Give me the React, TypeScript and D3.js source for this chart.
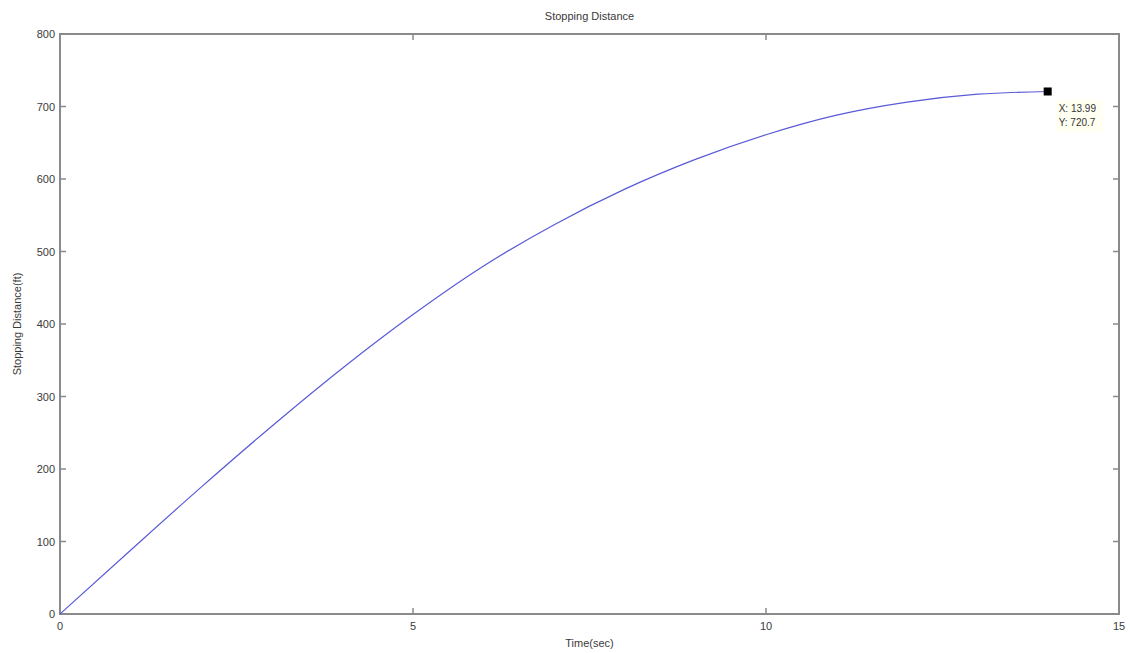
import React, { useRef, useEffect } from "react";
import * as d3 from "d3";

// values
const timeSec = [0, 1, 2, 3, 4, 5, 6, 7, 8, 9, 10, 11, 12, 13, 13.99];
const distanceFt = [0, 88, 175, 259, 339, 413, 480, 537, 586, 627, 661, 688, 706, 717, 720.7];
const xTicks = [0, 5, 10, 15];
const yTicks = [0, 100, 200, 300, 400, 500, 600, 700, 800];
const tipPoint = { x: 13.99, y: 720.7 };

const App = () => {
  const svgRef = useRef<SVGSVGElement>(null);

  useEffect(() => {
    const width = 1130;
    const height = 653;
    const margin = { top: 34, right: 11, bottom: 39, left: 60 };
    const font = "'Liberation Sans', Arial, sans-serif";
    const axisColor = "#8a8a8a";
    const textColor = "#3a3a3a";

    const svg = d3.select(svgRef.current);
    svg.selectAll("*").remove();
    svg.attr("width", width).attr("height", height);

    const xScale = d3
      .scaleLinear()
      .domain([0, 15])
      .range([margin.left, width - margin.right]);

    const yScale = d3
      .scaleLinear()
      .domain([0, 800])
      .range([height - margin.bottom, margin.top]);

    svg.append("rect").attr("width", width).attr("height", height).attr("fill", "#fff");

    // ticks point inwards on all four sides, like the original box
    const tickLen = 6;
    const x0 = xScale(0);
    const x1 = xScale(15);
    const y0 = yScale(0);
    const y1 = yScale(800);

    const ticks = svg.append("g").attr("stroke", axisColor).attr("stroke-width", 1.5);
    xTicks.forEach((t) => {
      ticks.append("line").attr("x1", xScale(t)).attr("x2", xScale(t)).attr("y1", y0).attr("y2", y0 - tickLen);
      ticks.append("line").attr("x1", xScale(t)).attr("x2", xScale(t)).attr("y1", y1).attr("y2", y1 + tickLen);
    });
    yTicks.forEach((t) => {
      ticks.append("line").attr("x1", x0).attr("x2", x0 + tickLen).attr("y1", yScale(t)).attr("y2", yScale(t));
      ticks.append("line").attr("x1", x1).attr("x2", x1 - tickLen).attr("y1", yScale(t)).attr("y2", yScale(t));
    });

    // box
    svg
      .append("rect")
      .attr("x", x0)
      .attr("y", y1)
      .attr("width", x1 - x0)
      .attr("height", y0 - y1)
      .attr("fill", "none")
      .attr("stroke", axisColor)
      .attr("stroke-width", 2);

    // tick labels
    svg
      .append("g")
      .selectAll("text")
      .data(xTicks)
      .enter()
      .append("text")
      .attr("x", (d) => xScale(d))
      .attr("y", y0 + 16)
      .attr("text-anchor", "middle")
      .attr("font-family", font)
      .attr("font-size", 11)
      .attr("fill", textColor)
      .text((d) => d);

    svg
      .append("g")
      .selectAll("text")
      .data(yTicks)
      .enter()
      .append("text")
      .attr("x", x0 - 5)
      .attr("y", (d) => yScale(d) + 4)
      .attr("text-anchor", "end")
      .attr("font-family", font)
      .attr("font-size", 11)
      .attr("fill", textColor)
      .text((d) => d);

    // curve
    svg
      .append("path")
      .datum(timeSec.map((t, i) => [t, distanceFt[i]] as [number, number]))
      .attr("fill", "none")
      .attr("stroke", "#5a5ad8")
      .attr("stroke-width", 1.2)
      .attr(
        "d",
        d3
          .line<[number, number]>()
          .x((d) => xScale(d[0]))
          .y((d) => yScale(d[1]))
          .curve(d3.curveMonotoneX)
      );

    // data tip
    const tx = xScale(tipPoint.x);
    const ty = yScale(tipPoint.y);
    svg
      .append("rect")
      .attr("x", tx - 4)
      .attr("y", ty - 4)
      .attr("width", 8)
      .attr("height", 8)
      .attr("fill", "#000");

    svg
      .append("rect")
      .attr("x", tx + 9)
      .attr("y", ty + 8)
      .attr("width", 46)
      .attr("height", 33)
      .attr("fill", "#fffff2");

    const tip = svg
      .append("text")
      .attr("font-family", font)
      .attr("font-size", 10)
      .attr("fill", "#333");
    tip.append("tspan").attr("x", tx + 11).attr("y", ty + 21).text(`X: ${tipPoint.x}`);
    tip.append("tspan").attr("x", tx + 11).attr("y", ty + 35).text(`Y: ${tipPoint.y}`);

    // titles
    svg
      .append("text")
      .attr("x", (x0 + x1) / 2)
      .attr("y", 20)
      .attr("text-anchor", "middle")
      .attr("font-family", font)
      .attr("font-size", 11)
      .attr("fill", textColor)
      .text("Stopping Distance");

    svg
      .append("text")
      .attr("x", (x0 + x1) / 2)
      .attr("y", height - 6)
      .attr("text-anchor", "middle")
      .attr("font-family", font)
      .attr("font-size", 11)
      .attr("fill", textColor)
      .text("Time(sec)");

    svg
      .append("text")
      .attr("transform", `translate(21,${(y0 + y1) / 2}) rotate(-90)`)
      .attr("text-anchor", "middle")
      .attr("font-family", font)
      .attr("font-size", 11)
      .attr("fill", textColor)
      .text("Stopping Distance(ft)");
  }, []);

  return <svg ref={svgRef} style={{ position: "absolute", left: 0, top: 0 }}></svg>;
};

export default App;
